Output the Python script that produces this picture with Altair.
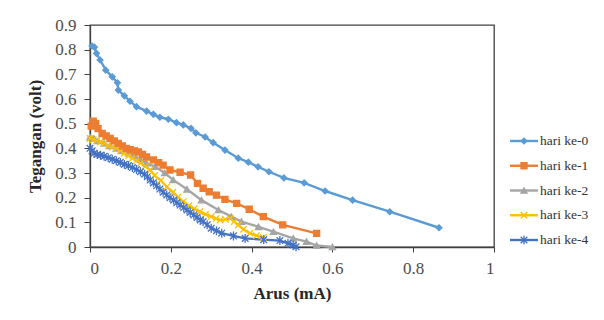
import altair as alt
import pandas as pd

names = ["hari ke-0", "hari ke-1", "hari ke-2", "hari ke-3", "hari ke-4"]
colors = ["#5B9BD5", "#ED7D31", "#A5A5A5", "#FFC000", "#4472C4"]
shapes = ["diamond", "square", "triangle-up",
          "M-1,-1L1,1M-1,1L1,-1",
          "M-1,-1L1,1M-1,1L1,-1M0,-1.35L0,1.35"]
marker_sizes = [34, 44, 36, 36, 50]
smooth = ["hari ke-3"]

i0 = [0.005, 0.011, 0.016, 0.025, 0.039, 0.055, 0.068, 0.070, 0.085, 0.099, 0.115, 0.14, 0.157, 0.173,
      0.194, 0.214, 0.231, 0.25, 0.262, 0.285, 0.305, 0.334, 0.367, 0.392, 0.416, 0.443, 0.48, 0.53,
      0.582, 0.65, 0.742, 0.864]
v0 = [0.815, 0.81, 0.785, 0.758, 0.717, 0.69, 0.666, 0.636, 0.613, 0.591, 0.569, 0.551, 0.538, 0.526,
      0.518, 0.504, 0.495, 0.481, 0.463, 0.446, 0.423, 0.393, 0.36, 0.344, 0.325, 0.305, 0.28, 0.26,
      0.227, 0.19, 0.143, 0.078]

i1 = [0.003, 0.008, 0.014, 0.02, 0.03, 0.04, 0.05, 0.06, 0.07, 0.08, 0.09, 0.1, 0.11, 0.12, 0.13, 0.14,
      0.157, 0.17, 0.181, 0.198, 0.223, 0.249, 0.266, 0.28, 0.295, 0.313, 0.334, 0.363, 0.394, 0.429,
      0.477, 0.561]
v1 = [0.49, 0.51, 0.5, 0.48, 0.46, 0.45, 0.44, 0.43, 0.42, 0.41, 0.40, 0.395, 0.39, 0.385, 0.375, 0.365,
      0.353, 0.342, 0.332, 0.312, 0.303, 0.292, 0.258, 0.238, 0.224, 0.21, 0.193, 0.177, 0.153, 0.123,
      0.09, 0.055]

i2 = [0.0, 0.01, 0.02, 0.035, 0.05, 0.065, 0.08, 0.095, 0.11, 0.125, 0.14, 0.161, 0.185, 0.206, 0.24,
      0.276, 0.318, 0.35, 0.375, 0.417, 0.454, 0.503, 0.536, 0.561, 0.6]
v2 = [0.445, 0.44, 0.43, 0.42, 0.41, 0.40, 0.39, 0.38, 0.37, 0.355, 0.34, 0.326, 0.3, 0.272, 0.234,
      0.19, 0.15, 0.123, 0.103, 0.082, 0.062, 0.035, 0.022, 0.006, 0.0]

i3 = [0.0, 0.008, 0.016, 0.025, 0.035, 0.045, 0.055, 0.065, 0.075, 0.085, 0.095, 0.105, 0.115, 0.125,
      0.137, 0.149, 0.16, 0.175, 0.19, 0.205, 0.218, 0.231, 0.245, 0.258, 0.272, 0.286, 0.30, 0.312,
      0.322, 0.335, 0.347, 0.357, 0.367, 0.38, 0.396, 0.412, 0.429]
v3 = [0.44, 0.435, 0.43, 0.425, 0.42, 0.41, 0.405, 0.40, 0.39, 0.38, 0.37, 0.36, 0.35, 0.34, 0.327,
      0.312, 0.29, 0.27, 0.244, 0.222, 0.203, 0.184, 0.168, 0.155, 0.143, 0.132, 0.123, 0.115, 0.109,
      0.112, 0.116, 0.103, 0.089, 0.072, 0.056, 0.046, 0.039]

i4 = [0.0, 0.005, 0.01, 0.018, 0.026, 0.035, 0.045, 0.055, 0.065, 0.075, 0.085, 0.095, 0.105, 0.115,
      0.125, 0.135, 0.142, 0.149, 0.157, 0.165, 0.173, 0.181, 0.19, 0.198, 0.207, 0.215, 0.223, 0.232,
      0.24, 0.248, 0.257, 0.265, 0.273, 0.28, 0.29, 0.30, 0.313, 0.326, 0.355, 0.384, 0.43, 0.47, 0.49,
      0.503, 0.51]
v4 = [0.40, 0.39, 0.38, 0.375, 0.372, 0.368, 0.362, 0.356, 0.35, 0.343, 0.335, 0.33, 0.322, 0.314,
      0.305, 0.295, 0.285, 0.272, 0.26, 0.248, 0.235, 0.222, 0.211, 0.2, 0.19, 0.18, 0.17, 0.16, 0.15,
      0.14, 0.13, 0.12, 0.11, 0.103, 0.09, 0.076, 0.066, 0.056, 0.045, 0.035, 0.03, 0.026, 0.015,
      0.008, 0.001]

x_ticks = [0, 0.2, 0.4, 0.6, 0.8, 1]
y_ticks = [0, 0.1, 0.2, 0.3, 0.4, 0.5, 0.6, 0.7, 0.8, 0.9]

rows = []
for name, xs, ys in zip(names, [i0, i1, i2, i3, i4], [v0, v1, v2, v3, v4]):
    for k, (a, b) in enumerate(zip(xs, ys)):
        rows.append({"series": name, "arus": a, "volt": b, "idx": k})
df = pd.DataFrame(rows)
leg = pd.DataFrame({"series": names})

FONT = "Liberation Serif"
LABEL_SIZE = 17
TITLE_SIZE = 17
color_s = alt.Scale(domain=names, range=colors)
shape_s = alt.Scale(domain=names, range=shapes)
size_s = alt.Scale(domain=names, range=marker_sizes)

x_axis = alt.Axis(values=x_ticks, format="~g", title="Arus (mA)", grid=False,
                  labelOverlap=False, tickSize=5, labelPadding=8, titlePadding=9,
                  labelFontSize=LABEL_SIZE, titleFontSize=TITLE_SIZE)
y_axis = alt.Axis(values=y_ticks, format="~g", title="Tegangan (volt)", grid=False,
                  labelOverlap=False, tickSize=6, labelPadding=8, titlePadding=10,
                  labelFontSize=LABEL_SIZE, titleFontSize=TITLE_SIZE)


def xenc():
    return alt.X("arus:Q", scale=alt.Scale(domain=[0, 1], nice=False), axis=x_axis)


def yenc():
    return alt.Y("volt:Q", scale=alt.Scale(domain=[0, 0.9], nice=False), axis=y_axis)


def marker_enc(**kw):
    return dict(
        color=alt.Color("series:N", scale=color_s, legend=None),
        stroke=alt.Stroke("series:N", scale=color_s, legend=None),
        shape=alt.Shape("series:N", scale=shape_s, legend=None),
        size=alt.Size("series:N", scale=size_s, legend=None),
        **kw,
    )


base = alt.Chart(df)
lines_straight = base.mark_line(strokeWidth=2.4).encode(
    x=xenc(), y=yenc(),
    color=alt.Color("series:N", scale=color_s, legend=None),
    detail="series:N",
    order="idx:Q",
).transform_filter(alt.FieldOneOfPredicate(field="series", oneOf=[n for n in names if n not in smooth]))
lines_smooth = base.mark_line(strokeWidth=2.4, interpolate="monotone").encode(
    x=xenc(), y=yenc(),
    color=alt.Color("series:N", scale=color_s, legend=None),
    detail="series:N",
    order="idx:Q",
).transform_filter(alt.FieldOneOfPredicate(field="series", oneOf=smooth))
points = base.mark_point(filled=True, strokeWidth=1.3, opacity=1).encode(
    **marker_enc(x=xenc(), y=yenc(), order="idx:Q")
)
main = alt.layer(lines_straight, lines_smooth, points)

ly = alt.Y("series:N", axis=None,
           scale=alt.Scale(type="point", domain=names, range=[116, 215], padding=0))
lrule = alt.Chart(leg).mark_rule(strokeWidth=2.4).encode(
    x=alt.value(420), x2=alt.value(448), y=ly,
    color=alt.Color("series:N", scale=color_s, legend=None),
)
lpt = alt.Chart(leg).mark_point(filled=True, strokeWidth=1.3, opacity=1).encode(
    **marker_enc(x=alt.value(434), y=ly)
)
ltxt = alt.Chart(leg).mark_text(align="left", baseline="middle", font=FONT, fontSize=13.5,
                                color="#333333").encode(
    x=alt.value(450), y=ly, text="series:N",
)
legend_layer = alt.layer(lrule, lpt, ltxt)

chart = alt.layer(main, legend_layer).resolve_scale(y="independent").properties(
    width=404, height=222,
    autosize=alt.AutoSizeParams(type="none"),
    padding={"left": 82, "top": 17, "right": 102, "bottom": 65},
    background="white",
).configure_view(
    stroke="#404040", strokeWidth=1.3
).configure_axis(
    labelFont=FONT, labelColor="#4d4d4d",
    titleFont=FONT, titleFontWeight="bold", titleColor="#262626",
    domainColor="#404040", tickColor="#404040", domainWidth=1.3,
)

chart.save("out.html", embed_options={"renderer": "svg", "actions": False})
